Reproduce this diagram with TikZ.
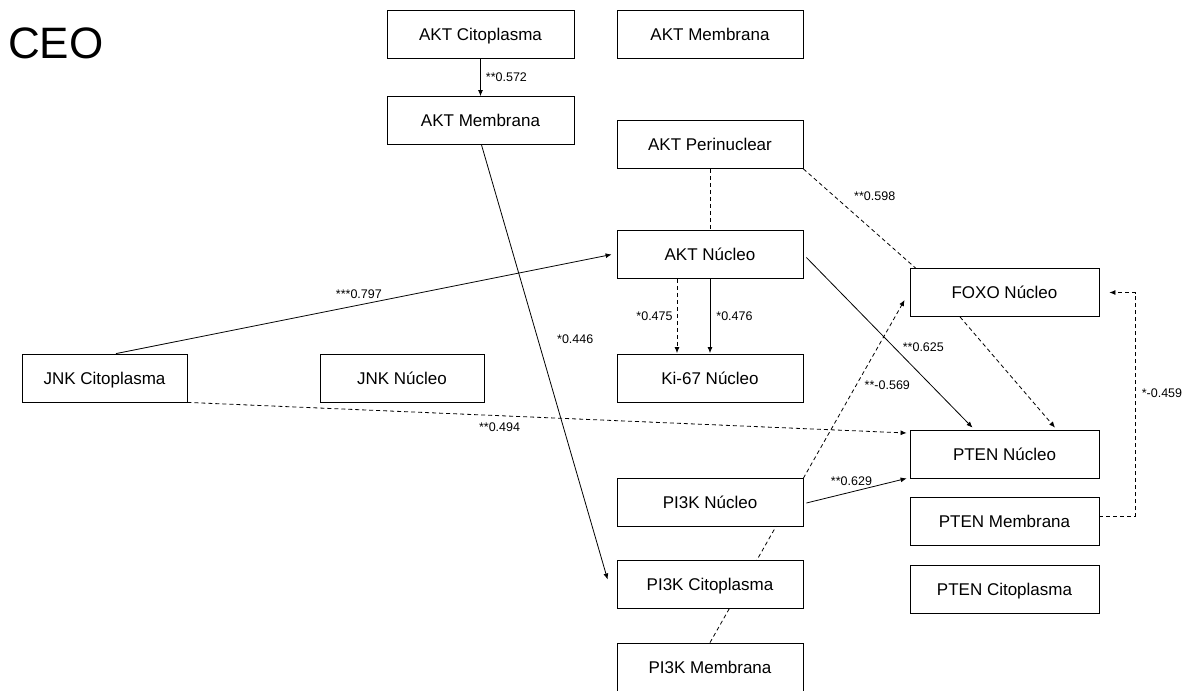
\documentclass[tikz,border=0pt]{standalone}
\usepackage{fontspec}
\setmainfont{Liberation Sans}
\usetikzlibrary{arrows.meta,backgrounds}
\begin{document}
\begin{tikzpicture}[x=1pt,y=-1pt,
  box/.style={draw,fill=white,line width=0.8pt,minimum width=187pt,minimum height=48pt,inner sep=0pt,text height=12.2pt,text depth=-1pt,font=\fontsize{17}{20}\selectfont},
  lbl/.style={font=\fontsize{12.5}{14}\selectfont,inner sep=1pt},
  conn/.style={line width=0.8pt},
  arr/.style={conn,-{Latex[length=6pt,width=5pt]}},
  dsh/.style={dash pattern=on 4pt off 3pt}]
\useasboundingbox (0,0) rectangle (1195,691);

\node[anchor=base west,font=\fontsize{44}{48}\selectfont,inner sep=0pt] (ceo) at (8,58) {CEO};

\node[box] (aktcito) at (480.5,34) {AKT Citoplasma};
\node[box,minimum width=186pt] (aktmemtop) at (710,34) {AKT Membrana};
\node[box] (aktmem) at (480.5,120.5) {AKT Membrana};
\node[box,minimum width=186pt] (aktperi) at (710,144.5) {AKT Perinuclear};
\node[box,minimum width=186pt] (aktnuc) at (710,254.5) {AKT Núcleo};
\node[box,minimum width=189pt] (foxo) at (1004.5,292.5) {FOXO Núcleo};
\node[box,minimum width=165pt] (jnkcito) at (104.5,378) {JNK Citoplasma};
\node[box,minimum width=164pt] (jnknuc) at (402,378) {JNK Núcleo};
\node[box,minimum width=186pt] (ki67) at (710,378.5) {Ki-67 Núcleo};
\node[box,minimum width=189pt] (ptennuc) at (1004.5,454) {PTEN Núcleo};
\node[box,minimum width=186pt] (pi3knuc) at (710,502) {PI3K Núcleo};
\node[box,minimum width=189pt] (ptenmem) at (1004.5,521) {PTEN Membrana};
\node[box,minimum width=186pt] (pi3kcito) at (710,584.5) {PI3K Citoplasma};
\node[box,minimum width=189pt] (ptencito) at (1004.5,589.5) {PTEN Citoplasma};
\node[box,minimum width=186pt] (pi3kmem) at (710,667) {PI3K Membrana};

% connectors
\draw[arr] (aktcito.south) -- node[lbl,right=4pt]{**0.572} (aktmem.north);
\draw[arr] ([xshift=1pt]aktmem.south) -- node[lbl,pos=0.446,right=18pt]{*0.446} ([xshift=-9pt,yshift=5pt]pi3kcito.west);
\draw[conn,dsh] (aktperi.south) -- (aktnuc.north);
\draw[conn,dsh] (aktperi.south east) -- node[lbl,pos=0.28,right=18pt]{**0.598} ([xshift=6pt]foxo.north west);
\draw[arr] ([xshift=11.5pt]jnkcito.north) -- node[lbl,pos=0.49,above=5pt]{***0.797} ([xshift=-5pt]aktnuc.west);
\draw[arr,dsh] ([xshift=-33pt]aktnuc.south) -- node[lbl,left=3pt]{*0.475} ([xshift=-33pt,yshift=1pt]ki67.north);
\draw[arr] (aktnuc.south) -- node[lbl,right=5pt]{*0.476} ([yshift=1pt]ki67.north);
\draw[arr] ([xshift=3pt,yshift=-3pt]aktnuc.east) -- node[lbl,pos=0.53,right=7pt]{**0.625} ([xshift=-32pt,yshift=2pt]ptennuc.north);
\draw[arr,dsh] ([xshift=-44.5pt]foxo.south) -- ([xshift=50.5pt,yshift=2pt]ptennuc.north);
\draw[arr,dsh] (jnkcito.south east) -- node[lbl,pos=0.434,below=6pt]{**0.494} ([xshift=-3pt,yshift=21pt]ptennuc.west);
\draw[arr] ([xshift=3pt,yshift=-1pt]pi3knuc.east) -- node[lbl,pos=0.45,above=5pt]{**0.629} ([xshift=-3pt]ptennuc.south west);
\draw[arr,dsh] ([yshift=5pt]ptenmem.east) -- ++(36,0) |- node[lbl,pos=0.275,right=5pt]{*-0.459} ([xshift=10pt]foxo.east);
\begin{pgfonlayer}{background}
\draw[arr,dsh] (pi3kmem.north) -- node[lbl,pos=0.752,right=7pt]{**-0.569} ([xshift=-5pt,yshift=-7.5pt]foxo.west);
\end{pgfonlayer}
\end{tikzpicture}
\end{document}
